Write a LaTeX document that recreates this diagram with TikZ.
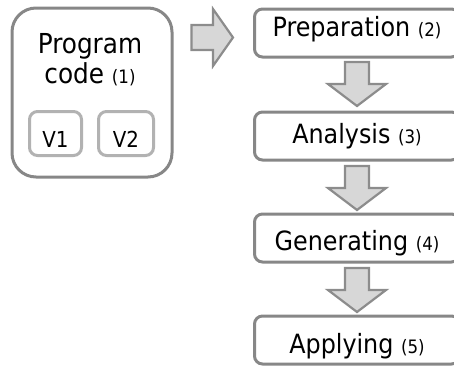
\documentclass[tikz,border=0pt]{standalone}
\usepackage{fontspec}
\setmainfont{DejaVu Sans Condensed}
\definecolor{boxgray}{HTML}{878787}
\definecolor{vgray}{HTML}{B2B2B2}
\definecolor{arrfill}{HTML}{D7D7D7}
\definecolor{arrline}{HTML}{8C8C8C}
\begin{document}
\begin{tikzpicture}[x=1pt,y=-1pt,
  bigbox/.style={draw=boxgray, line width=3pt, rounded corners=24pt, minimum width=160pt, minimum height=169pt, inner sep=0pt},
  vbox/.style={draw=vgray, line width=3pt, rounded corners=8pt, minimum height=44pt, inner sep=0pt},
  stepbox/.style={draw=boxgray, line width=3pt, rounded corners=8pt, minimum width=205pt, minimum height=48pt, inner sep=0pt, fill=white},
  txt/.style={font=\fontsize{26.5}{30}\selectfont, inner sep=0pt, anchor=base},
  vtxt/.style={font=\fontsize{22}{26}\selectfont, inner sep=0pt, anchor=base},
  blockarrow/.style={draw=arrline, fill=arrfill, line width=2.2pt, line join=miter}]
\useasboundingbox (0,0) rectangle (454,367);
\clip (0,0) rectangle (454,367);
\newcommand{\sm}[1]{{\fontsize{18.5}{22}\selectfont #1}}
% left block
\node[bigbox] (prog) at (92,92.5) {};
\node[txt, font=\fontsize{27.5}{32}\selectfont] (progA) at (90,53) {Program};
\node[txt, font=\fontsize{27.5}{32}\selectfont] (progB) at (90,83) {code \sm{(1)}};
\node[vbox, minimum width=52pt] (v1) at (55.5,133.5) {};
\node[vbox, minimum width=55pt] (v2) at (126,133.5) {};
\node[vtxt] (v1t) at (55.5,147) {V1};
\node[vtxt] (v2t) at (126,147) {V2};
% right arrow
\draw[blockarrow] (191.5,25) -- (213,25) -- (213,9) -- (233,37.5) -- (213,66) -- (213,50) -- (191.5,50) -- cycle;
% steps
\node[stepbox] (prep) at (357,33) {};
\node[stepbox] (ana) at (357,136) {};
\node[stepbox] (gen) at (357,238) {};
\node[stepbox] (app) at (357,340) {};
\node[txt] (prept) at (357,36) {Preparation \sm{(2)}};
\node[txt] (anat) at (357,143) {Analysis \sm{(3)}};
\node[txt] (gent) at (357,250) {Generating \sm{(4)}};
\node[txt] (appt) at (357,353) {Applying \sm{(5)}};
% down arrows
\foreach \y in {62,166,268}{
  \draw[blockarrow] (345,\y) -- (369,\y) -- (369,\y+22) -- (386,\y+22) -- (357,\y+44) -- (328,\y+22) -- (345,\y+22) -- cycle;
}
\end{tikzpicture}
\end{document}
